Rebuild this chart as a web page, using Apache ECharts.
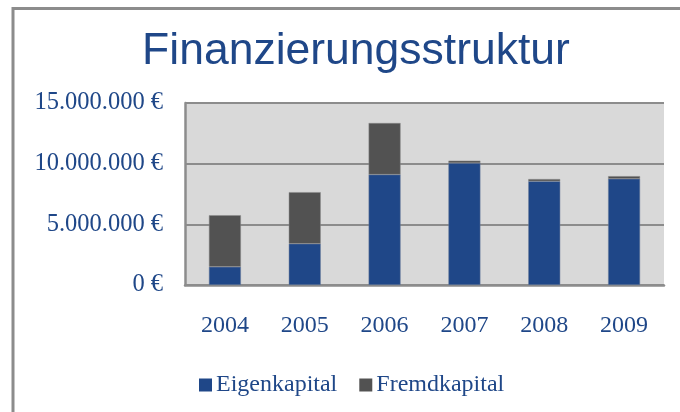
<!DOCTYPE html>
<html>
<head>
<meta charset="utf-8">
<script src="https://cdn.jsdelivr.net/npm/echarts@6/dist/echarts.min.js"></script>
<style>
  html, body { margin: 0; padding: 0; background: #fff; }
  #chart { width: 680px; height: 412px; }
</style>
</head>
<body>
<div id="chart"></div>
<script>
var years = ['2004', '2005', '2006', '2007', '2008', '2009'];
var eigenkapital = [1500000, 3400000, 9100000, 10050000, 8550000, 8750000];
var fremdkapital = [4250000, 4250000, 4250000, 200000, 180000, 220000];

var blue = '#1f4788';
var serif = '"Liberation Serif", "Times New Roman", serif';

var chart = echarts.init(document.getElementById('chart'));

function euro(v) {
  return String(v).replace(/\B(?=(\d{3})+(?!\d))/g, '.') + ' €';
}

chart.setOption({
  backgroundColor: '#fff',
  animation: false,
  title: {
    text: 'Finanzierungsstruktur',
    left: 351,
    textAlign: 'center',
    top: 24,
    textStyle: {
      fontFamily: '"Liberation Sans", Arial, sans-serif',
      fontWeight: 'normal',
      fontSize: 44.5,
      color: blue
    }
  },
  legend: {
    left: 199,
    top: 373,
    padding: 0,
    itemWidth: 13,
    itemHeight: 13,
    itemGap: 22,
    icon: 'rect',
    itemStyle: { borderWidth: 0 },
    textStyle: { fontFamily: serif, fontSize: 24, color: blue, padding: [0, 0, 0, -1] },
    data: ['Eigenkapital', 'Fremdkapital']
  },
  grid: { left: 185, right: 16, top: 103, bottom: 127 },
  xAxis: {
    type: 'category',
    data: years,
    axisLine: { lineStyle: { color: '#8c8c8c', width: 2.5 } },
    axisTick: { show: false },
    axisLabel: { fontFamily: serif, fontSize: 24, color: blue, margin: 29 }
  },
  yAxis: {
    type: 'value',
    min: 0,
    max: 15000000,
    interval: 5000000,
    axisLine: { show: true, lineStyle: { color: '#8c8c8c', width: 2.5 } },
    axisTick: { show: false },
    splitLine: { lineStyle: { color: '#8c8c8c', width: 2 } },
    axisLabel: { fontFamily: serif, fontSize: 24.5, color: blue, margin: 22, formatter: euro }
  },
  series: [{
    name: 'Eigenkapital',
    type: 'bar',
    stack: 'k',
    barWidth: '40%',
    data: eigenkapital,
    itemStyle: { color: blue, borderColor: '#6f7f9a', borderWidth: 0.5 }
  }, {
    name: 'Fremdkapital',
    type: 'bar',
    stack: 'k',
    barWidth: '40%',
    data: fremdkapital,
    itemStyle: { color: '#525252', borderColor: '#8a8a8a', borderWidth: 0.5 }
  }]
});

// grey plot background and outer frame
var g = chart.getModel().getComponent('grid').coordinateSystem.getRect();
chart.setOption({
  graphic: [{
    type: 'rect',
    shape: { x: 13, y: 8.5, width: 720, height: 500 },
    style: { fill: 'none', stroke: '#8c8c8c', lineWidth: 3 },
    silent: true
  }, {
    type: 'rect',
    z: -1,
    shape: { x: g.x, y: g.y, width: g.width, height: g.height },
    style: { fill: '#d9d9d9' },
    silent: true
  }]
});
</script>
</body>
</html>
